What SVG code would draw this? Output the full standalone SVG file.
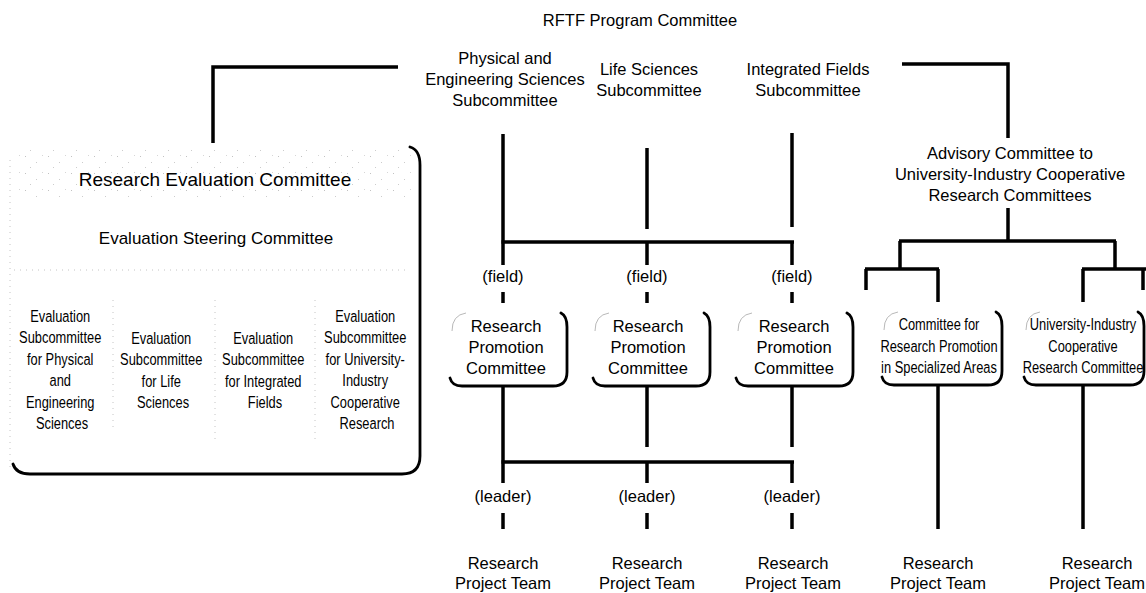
<svg xmlns="http://www.w3.org/2000/svg" width="1146" height="593" viewBox="0 0 1146 593">
  <defs>
    <style>
      .t { font-family: "Liberation Sans", Arial, sans-serif; font-size: 16.5px; fill: #000; text-anchor: middle; }
      .big { font-size: 19px; }
      .mid { font-size: 17px; }
      .n { font-family: "Liberation Sans", Arial, sans-serif; font-size: 16.5px; fill: #000; text-anchor: middle; }
      .c { stroke: #000; stroke-width: 3.5; fill: none; }
      .frame { stroke: #000; stroke-width: 2.8; fill: none; stroke-linecap: round; }
      .faint { stroke: #b0b0b0; stroke-width: 0.9; fill: none; }
      .dots { stroke: #c4c4c4; stroke-width: 1; fill: none; stroke-dasharray: 1 5; }
    </style>
    <!-- sparse speckle used behind the panel heading -->
    <pattern id="grain" width="23" height="17" patternUnits="userSpaceOnUse">
      <rect x="2" y="3" width="1" height="1" fill="#999"/>
      <rect x="13" y="9" width="1" height="1" fill="#aaa"/>
      <rect x="19" y="2" width="1" height="1" fill="#bbb"/>
      <rect x="7" y="14" width="1" height="1" fill="#aaa"/>
    </pattern>
  </defs>

  <rect width="1146" height="593" fill="#fff"/>

  <!-- connectors -->
  <g id="connectors">
    <path class="c" d="M213,143 V67 H398"/>
    <path class="c" d="M902,64 H1008 V138"/>
    <!-- subcommittees to field bar -->
    <path class="c" d="M503,134 V265"/>
    <path class="c" d="M647,148 V229"/>
    <path class="c" d="M792,133 V227"/>
    <path class="c" d="M501.5,242 H794"/>
    <path class="c" d="M647,242 V265 M792,242 V265"/>
    <path class="c" d="M503,292 V303 M647,292 V303 M792,292 V303"/>
    <!-- promotion committees to leader bar -->
    <path class="c" d="M503,386 V483"/>
    <path class="c" d="M647,386 V447 M792,386 V447"/>
    <path class="c" d="M501.5,462 H794"/>
    <path class="c" d="M647,462 V483 M792,462 V483"/>
    <path class="c" d="M503,513 V529 M647,513 V529 M792,513 V529"/>
    <!-- advisory committee branches -->
    <path class="c" d="M1008,208 V241"/>
    <path class="c" d="M899,241 H1116"/>
    <path class="c" d="M900,241 V269 M865,269 H939 M866,269 V290 M938,269 V302"/>
    <path class="c" d="M1115,241 V269 M1082,269 H1146 M1083,269 V302 M1143,269 V290"/>
    <path class="c" d="M938,385 V529 M1083,385 V529"/>
  </g>

  <!-- top committee -->
  <g id="rftf">
    <text class="t" x="640" y="26">RFTF Program Committee</text>
  </g>

  <g id="sub-physical">
    <text class="t" x="505" y="64">Physical and</text>
    <text class="t" x="505" y="85">Engineering Sciences</text>
    <text class="t" x="505" y="106">Subcommittee</text>
  </g>
  <g id="sub-life">
    <text class="t" x="649" y="75">Life Sciences</text>
    <text class="t" x="649" y="96">Subcommittee</text>
  </g>
  <g id="sub-integrated">
    <text class="t" x="808" y="75">Integrated Fields</text>
    <text class="t" x="808" y="96">Subcommittee</text>
  </g>

  <g id="advisory">
    <text class="t" x="1010" y="159">Advisory Committee to</text>
    <text class="t" x="1010" y="180">University-Industry Cooperative</text>
    <text class="t" x="1010" y="201">Research Committees</text>
  </g>

  <!-- evaluation committee panel -->
  <g id="evaluation">
    <rect x="14" y="150" width="400" height="50" fill="url(#grain)" opacity="0.6"/>
    <path class="dots" d="M10,160 V470"/>
    <path class="dots" d="M14,270 H410"/>
    <path class="dots" d="M113,300 V430 M215,300 V440 M315,300 V440"/>
    <path class="frame" d="M410,147 Q420,150 420,165 L420,456 Q420,474 402,474 L30,474 Q16,474 13,464"/>
    <text class="t big" x="215" y="186">Research Evaluation Committee</text>
    <text class="t mid" x="216" y="244">Evaluation Steering Committee</text>
    <text class="n" transform="translate(62,0) scale(0.78,1)">
      <tspan x="0" y="322">Evaluation</tspan>
      <tspan x="0" y="343.5">Subcommittee</tspan>
      <tspan x="0" y="365">for Physical</tspan>
      <tspan x="0" y="386.5">and</tspan>
      <tspan x="0" y="408">Engineering</tspan>
      <tspan x="0" y="429.5">Sciences</tspan>
    </text>
    <text class="n" transform="translate(163,0) scale(0.78,1)">
      <tspan x="0" y="344">Evaluation</tspan>
      <tspan x="0" y="365.5">Subcommittee</tspan>
      <tspan x="0" y="387">for Life</tspan>
      <tspan x="0" y="408.5">Sciences</tspan>
    </text>
    <text class="n" transform="translate(265,0) scale(0.78,1)">
      <tspan x="0" y="344">Evaluation</tspan>
      <tspan x="0" y="365.5">Subcommittee</tspan>
      <tspan x="0" y="387">for Integrated</tspan>
      <tspan x="0" y="408.5">Fields</tspan>
    </text>
    <text class="n" transform="translate(367,0) scale(0.78,1)">
      <tspan x="0" y="322">Evaluation</tspan>
      <tspan x="0" y="343.5">Subcommittee</tspan>
      <tspan x="0" y="365">for University-</tspan>
      <tspan x="0" y="386.5">Industry</tspan>
      <tspan x="0" y="408">Cooperative</tspan>
      <tspan x="0" y="429.5">Research</tspan>
    </text>
  </g>

  <!-- field labels -->
  <g id="field-labels">
    <text class="t" x="503" y="282">(field)</text>
    <text class="t" x="647" y="282">(field)</text>
    <text class="t" x="792" y="282">(field)</text>
  </g>

  <!-- research promotion committees -->
  <g id="rpc-1">
    <path class="faint" d="M452,331 Q452,315 466,313"/>
    <path class="frame" d="M561,313 Q567,316 567,327 L567,372 Q567,386 553,386 L462,386 Q452,386 450,378"/>
    <text class="t"><tspan x="506" y="332">Research</tspan><tspan x="506" y="353">Promotion</tspan><tspan x="506" y="374">Committee</tspan></text>
  </g>
  <g id="rpc-2">
    <path class="faint" d="M595,331 Q595,315 609,313"/>
    <path class="frame" d="M704,313 Q710,316 710,327 L710,372 Q710,386 696,386 L605,386 Q595,386 593,378"/>
    <text class="t"><tspan x="648" y="332">Research</tspan><tspan x="648" y="353">Promotion</tspan><tspan x="648" y="374">Committee</tspan></text>
  </g>
  <g id="rpc-3">
    <path class="faint" d="M738,331 Q738,315 752,313"/>
    <path class="frame" d="M847,313 Q853,316 853,327 L853,372 Q853,386 839,386 L748,386 Q738,386 736,378"/>
    <text class="t"><tspan x="794" y="332">Research</tspan><tspan x="794" y="353">Promotion</tspan><tspan x="794" y="374">Committee</tspan></text>
  </g>
  <g id="specialized">
    <path class="faint" d="M884,330 Q884,314 898,312"/>
    <path class="frame" d="M996,312 Q1002,315 1002,326 L1002,371 Q1002,385 988,385 L894,385 Q884,385 882,377"/>
    <text class="n" transform="translate(939,0) scale(0.78,1)"><tspan x="0" y="330">Committee for</tspan><tspan x="0" y="352">Research Promotion</tspan><tspan x="0" y="373">in Specialized Areas</tspan></text>
  </g>
  <g id="uic">
    <path class="faint" d="M1026,330 Q1026,314 1040,312"/>
    <path class="frame" d="M1138,312 Q1144,315 1144,326 L1144,371 Q1144,385 1130,385 L1036,385 Q1026,385 1024,377"/>
    <text class="n" transform="translate(1083,0) scale(0.78,1)"><tspan x="0" y="330">University-Industry</tspan><tspan x="0" y="352">Cooperative</tspan><tspan x="0" y="373">Research Committee</tspan></text>
  </g>

  <!-- leader labels -->
  <g id="leader-labels">
    <text class="t" x="503" y="502">(leader)</text>
    <text class="t" x="647" y="502">(leader)</text>
    <text class="t" x="792" y="502">(leader)</text>
  </g>

  <!-- project teams -->
  <g id="team-1"><text class="t"><tspan x="503" y="569">Research</tspan><tspan x="503" y="589">Project Team</tspan></text></g>
  <g id="team-2"><text class="t"><tspan x="647" y="569">Research</tspan><tspan x="647" y="589">Project Team</tspan></text></g>
  <g id="team-3"><text class="t"><tspan x="793" y="569">Research</tspan><tspan x="793" y="589">Project Team</tspan></text></g>
  <g id="team-4"><text class="t"><tspan x="938" y="569">Research</tspan><tspan x="938" y="589">Project Team</tspan></text></g>
  <g id="team-5"><text class="t"><tspan x="1097" y="569">Research</tspan><tspan x="1097" y="589">Project Team</tspan></text></g>
</svg>
